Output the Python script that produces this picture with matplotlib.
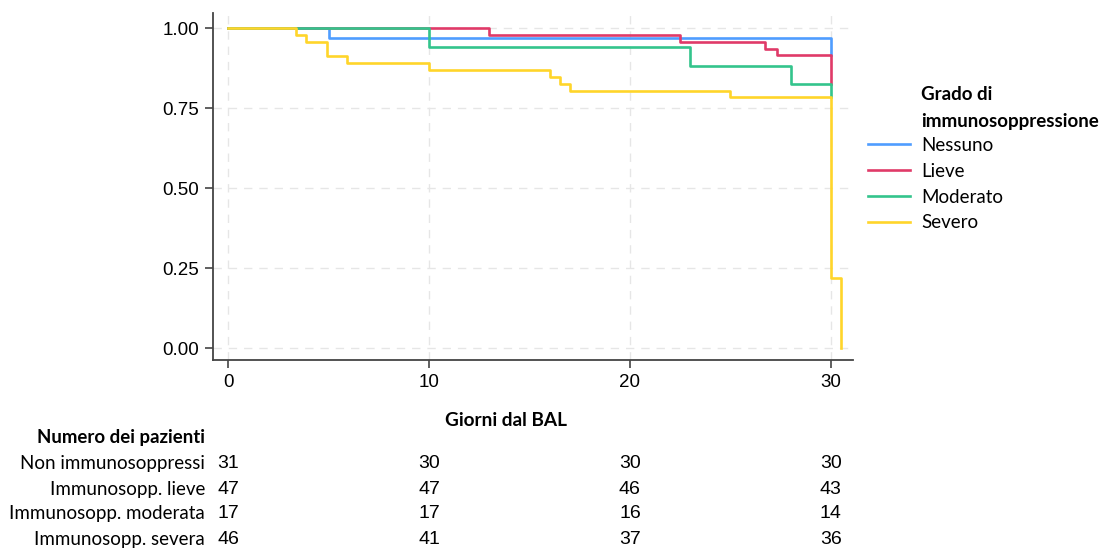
import matplotlib
matplotlib.use("Agg")
import matplotlib.pyplot as plt
from matplotlib.transforms import blended_transform_factory

# survival curves (Kaplan-Meier)
nessuno_t = [0, 5, 30]
nessuno_s = [1.0, 0.968, 0.915]
lieve_t = [0, 13, 22.5, 26.7, 27.3, 30]
lieve_s = [1.0, 0.979, 0.957, 0.936, 0.915, 0.824]
moderato_t = [0, 10, 23, 28, 30]
moderato_s = [1.0, 0.941, 0.882, 0.824, 0.783]
severo_t = [0, 3.4, 3.9, 4.9, 5.9, 10, 16, 16.5, 17, 25, 30, 30.5]
severo_s = [1.0, 0.978, 0.957, 0.913, 0.891, 0.870, 0.848, 0.826, 0.804, 0.783, 0.22, 0.0]

groups = ["Nessuno", "Lieve", "Moderato", "Severo"]
colors = ["#4f9dff", "#e03a68", "#33c48c", "#ffd52a"]

# number at risk table
risk_times = [0, 10, 20, 30]
risk_labels = ["Non immunosoppressi", "Immunosopp. lieve",
               "Immunosopp. moderata", "Immunosopp. severa"]
risk_counts = [[31, 30, 30, 30],
               [47, 47, 46, 43],
               [17, 17, 16, 14],
               [46, 41, 37, 36]]

text_font = ["Lato", "DejaVu Sans"]
num_font = ["Liberation Sans", "DejaVu Sans"]

fig = plt.figure(figsize=(11.02, 5.52), dpi=100)
ax = fig.add_axes([0.1933, 0.3478, 0.5807, 0.6286])

curves = [(nessuno_t, nessuno_s), (lieve_t, lieve_s),
          (moderato_t, moderato_s), (severo_t, severo_s)]
for (t, s), name, c in zip(curves, groups, colors):
    ax.step(t, s, where="post", color=c, lw=1.9, label=name)

ax.set_xlim(-0.75, 31.1)
ax.set_ylim(-0.0375, 1.047)
ax.set_xticks([0, 10, 20, 30])
ax.set_yticks([0, 0.25, 0.5, 0.75, 1.0])
ax.set_yticklabels(["0.00", "0.25", "0.50", "0.75", "1.00"])
for lab in ax.get_xticklabels() + ax.get_yticklabels():
    lab.set_fontfamily(num_font)
    lab.set_fontsize(13.5)
ax.tick_params(axis="both", length=6, width=1.2, color="#444444", pad=4)
ax.grid(True, ls=(0, (6, 5)), color="#e6e6e6", lw=1.0)
ax.set_axisbelow(True)
for side in ["top", "right"]:
    ax.spines[side].set_visible(False)
for side in ["left", "bottom"]:
    ax.spines[side].set_color("#444444")
    ax.spines[side].set_linewidth(1.3)

fig.text(506 / 1102, 1 - 420 / 552, "Giorni dal BAL", ha="center", va="center",
         fontsize=13.7, fontweight="bold", family=text_font)

# legend
fig.text(921 / 1102, 1 - 94 / 552, "Grado di", ha="left", va="center",
         fontsize=13.5, fontweight="bold", family=text_font)
fig.text(921 / 1102, 1 - 121 / 552, "immunosoppressione", ha="left", va="center",
         fontsize=13.5, fontweight="bold", family=text_font)
leg = ax.legend(loc="upper left", bbox_to_anchor=(868 / 1102, 1 - 137 / 552),
                bbox_transform=fig.transFigure, frameon=False,
                prop={"family": text_font, "size": 13.5},
                handlelength=2.25, handletextpad=0.58, labelspacing=0.47,
                borderpad=0, borderaxespad=0)

# number at risk
fig.text(205 / 1102, 1 - 437 / 552, "Numero dei pazienti", ha="right", va="center",
         fontsize=13.4, fontweight="bold", family=text_font)
row_y = [463, 489, 513, 540]
trans = blended_transform_factory(ax.transData, fig.transFigure)
for lab, counts, y in zip(risk_labels, risk_counts, row_y):
    fig.text(205 / 1102, 1 - y / 552, lab, ha="right", va="center",
             fontsize=13.5, family=text_font)
    for t, n in zip(risk_times, counts):
        ax.text(t, 1 - y / 552, str(n), transform=trans, ha="center", va="center",
                fontsize=14, family=num_font, clip_on=False)

fig.savefig("out.png", dpi=100)
